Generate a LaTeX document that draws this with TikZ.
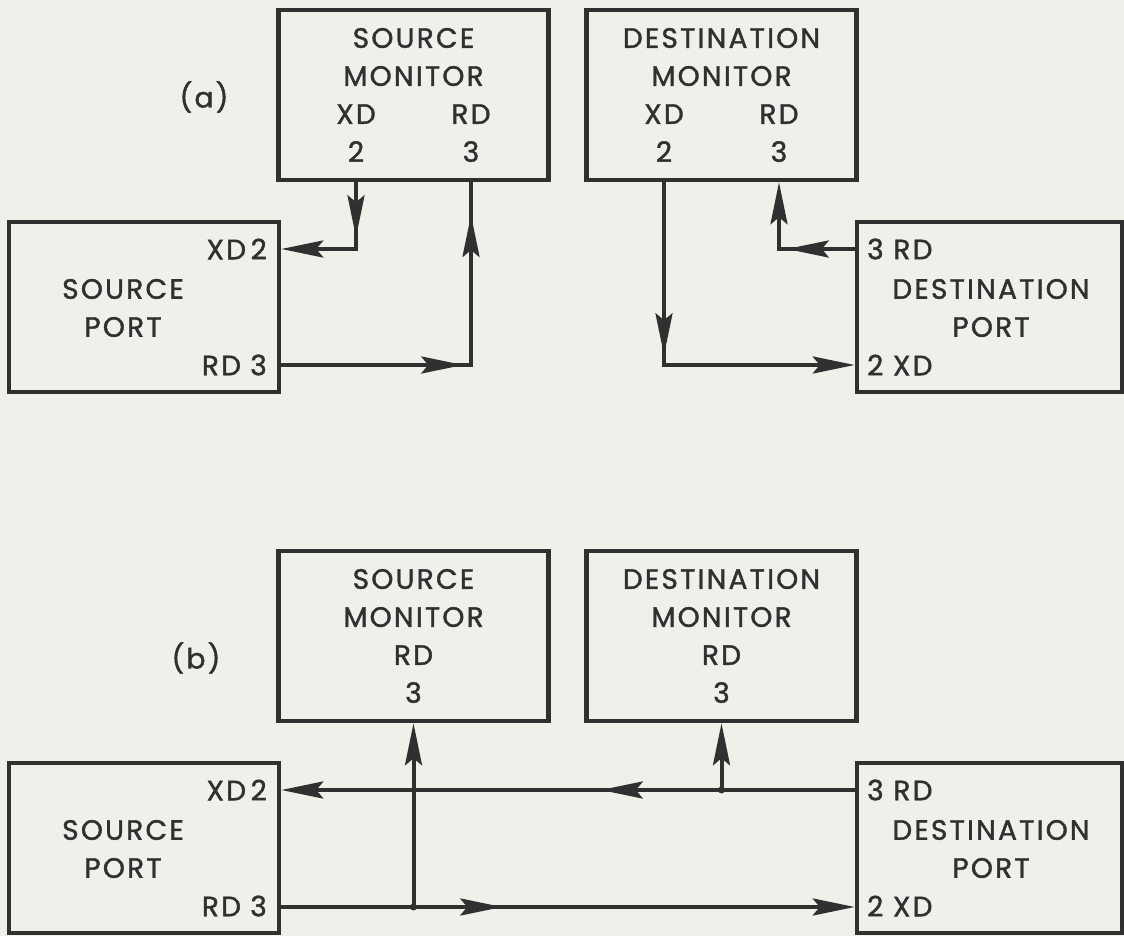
\documentclass[tikz,border=0pt]{standalone}
\usepackage{fontspec}
\setmainfont{Poppins}[LetterSpace=8, FakeBold=1.4]
\usetikzlibrary{arrows.meta}

\definecolor{ink}{RGB}{48,48,48}
\definecolor{paper}{RGB}{240,240,235}

\newcommand\capsfont{\fontsize{28}{38}\selectfont}
\newcommand\pincols[2]{\makebox[115pt]{#1}\makebox[115pt]{#2}}

\tikzset{
  box/.style={draw=ink, line width=4.5pt, minimum width=270pt, minimum height=170pt,
    inner sep=0pt, align=center, font=\capsfont, text=ink},
  txt/.style={inner sep=0pt, align=center, font=\capsfont, text=ink},
  wire/.style={draw=ink, line width=4pt},
}

\begin{document}
\begin{tikzpicture}[x=1pt,y=-1pt,>={Stealth[length=42pt,width=17pt,inset=7pt]}]
        \fill[paper] (0,0) rectangle (1124,936);
        \useasboundingbox (0,0) rectangle (1124,936);
        % monitors
        \node[box] (sma) at (413.5,95) {SOURCE\\MONITOR\\\pincols{XD}{RD}\\\pincols{2}{3}};
        \node[box] (dma) at (721.5,95) {DESTINATION\\MONITOR\\\pincols{XD}{RD}\\\pincols{2}{3}};
        \node[box] (smb) at (413.5,636) {SOURCE\\MONITOR\\RD\\3};
        \node[box] (dmb) at (721.5,636) {DESTINATION\\MONITOR\\RD\\3};
        \node[txt] (la) at (204,97) {(a)};
        \node[txt] (lb) at (196,658) {(b)};
        % ports, same in both halves
        \foreach \p/\y in {a/307,b/848}{
            \node[box] (sp\p) at (144,\y) {};
            \node[box, minimum width=265pt] (dp\p) at (989.5,\y) {};
            \node[txt, anchor=east] (sp\p-xd) at (267,\y-58) {XD\,2};
            \node[txt] (sp\p-name) at (123,\y+1) {SOURCE\\PORT};
            \node[txt, anchor=east] (sp\p-rd) at (267,\y+58) {RD\,\,3};
            \node[txt, anchor=west] (dp\p-rd) at (867,\y-58) {3 RD};
            \node[txt] (dp\p-name) at (991,\y+1) {DESTINATION\\PORT};
            \node[txt, anchor=west] (dp\p-xd) at (867,\y+58) {2 XD};
        }
        % (a) wires
        \coordinate (sxd) at (356,249);
        \coordinate (srd) at (471,365);
        \coordinate (dxd) at (664,365);
        \coordinate (drd) at (779,249);
        \draw[wire,->] (sma.south -| sxd) -- (sxd) -- (spa.east |- sxd);
        \draw[wire,->] (sma.south -| sxd) -- +(0,55);
        \draw[wire] (spa.east |- srd) -- (srd) -- (sma.south -| srd);
        \draw[wire,->] (spa.east |- srd) -- +(182,0);
        \draw[wire,->] (srd) -- +(0,-150);
        \draw[wire,->] (dma.south -| dxd) -- (dxd) -- (dpa.west |- dxd);
        \draw[wire,->] (dma.south -| dxd) -- +(0,173);
        \draw[wire,->] (dpa.west |- drd) -- (drd) -- (dma.south -| drd);
        \draw[wire,->] (dpa.west |- drd) -- +(-68,0);
        % (b) wires
        \coordinate (jtop) at (721.5,790);
        \coordinate (jbot) at (413.5,907);
        \draw[wire,->] (dpb.west |- jtop) -- (spb.east |- jtop);
        \draw[wire,->] (dpb.west |- jtop) -- +(-254,0);
        \draw[wire,->] (jtop) -- (dmb.south);
        \draw[wire,->] (spb.east |- jbot) -- (dpb.west |- jbot);
        \draw[wire,->] (spb.east |- jbot) -- +(221,0);
        \draw[wire,->] (jbot) -- (smb.south);
        \fill[ink] (jtop) circle (3.5) (jbot) circle (3.5);
    \end{tikzpicture}
\end{document}
